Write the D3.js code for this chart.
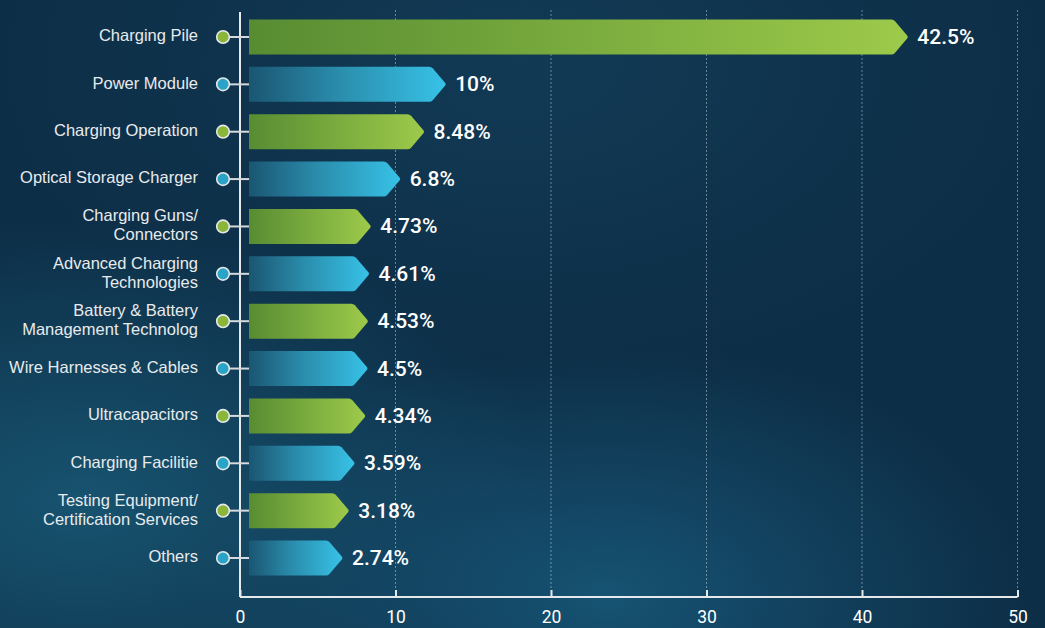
<!DOCTYPE html>
<html><head><meta charset="utf-8">
<script src="https://cdn.jsdelivr.net/npm/d3@7/dist/d3.min.js"></script>
<style>
html,body{margin:0;padding:0;background:#0d2e47;overflow:hidden;}
svg{display:block;}
</style></head>
<body>
<svg id="chart" width="1045" height="628"></svg>
<script>
const categories = ["Charging Pile","Power Module","Charging Operation","Optical Storage Charger","Charging Guns/\nConnectors","Advanced Charging\nTechnologies","Battery & Battery\nManagement Technolog","Wire Harnesses & Cables","Ultracapacitors","Charging Facilitie","Testing Equipment/\nCertification Services","Others"];
const values = [42.5, 10, 8.48, 6.8, 4.73, 4.61, 4.53, 4.5, 4.34, 3.59, 3.18, 2.74];
const valueLabels = ["42.5%","10%","8.48%","6.8%","4.73%","4.61%","4.53%","4.5%","4.34%","3.59%","3.18%","2.74%"];
const xTicks = [0, 10, 20, 30, 40, 50];

const W = 1045, H = 628;
const svg = d3.select("#chart");
const defs = svg.append("defs");

// background
const bg1 = defs.append("radialGradient").attr("id","bg1").attr("cx","0.08").attr("cy","0.8").attr("r","0.45");
bg1.append("stop").attr("offset","0").attr("stop-color","#17536f");
bg1.append("stop").attr("offset","1").attr("stop-color","#17536f").attr("stop-opacity",0);
const bg2 = defs.append("radialGradient").attr("id","bg2").attr("cx","0.58").attr("cy","0.95").attr("r","0.4");
bg2.append("stop").attr("offset","0").attr("stop-color","#165373");
bg2.append("stop").attr("offset","1").attr("stop-color","#165373").attr("stop-opacity",0);
const bg3 = defs.append("radialGradient").attr("id","bg3").attr("cx","0.5").attr("cy","0.1").attr("r","0.5");
bg3.append("stop").attr("offset","0").attr("stop-color","#123a55");
bg3.append("stop").attr("offset","1").attr("stop-color","#123a55").attr("stop-opacity",0);
svg.append("rect").attr("width",W).attr("height",H).attr("fill","#0d2e47");
svg.append("rect").attr("width",W).attr("height",H).attr("fill","url(#bg3)");
svg.append("rect").attr("width",W).attr("height",H).attr("fill","url(#bg1)");
svg.append("rect").attr("width",W).attr("height",H).attr("fill","url(#bg2)");

// bar gradients
const gG = defs.append("linearGradient").attr("id","gGreen").attr("x1",0).attr("x2",1).attr("y1",0).attr("y2",0);
gG.append("stop").attr("offset","0").attr("stop-color","#578c32");
gG.append("stop").attr("offset","1").attr("stop-color","#9dca4a");
const gB = defs.append("linearGradient").attr("id","gBlue").attr("x1",0).attr("x2",1).attr("y1",0).attr("y2",0);
gB.append("stop").attr("offset","0").attr("stop-color","#1a5672");
gB.append("stop").attr("offset","0.45").attr("stop-color","#2a8cab");
gB.append("stop").attr("offset","1").attr("stop-color","#37c2e7");

const x = d3.scaleLinear().domain([0,50]).range([240,1017.5]);
const xBar = d3.scaleLinear().domain([0,50]).range([304,1015]);
const y = d3.scaleBand().domain(categories).range([13.3,581.7]);
const barH = 35, barX0 = 249, tipLen = 15;

const axisY = 597;

// grid lines
svg.append("g").selectAll("line").data(xTicks.filter(d=>d>0)).join("line")
  .attr("x1",d=>x(d)).attr("x2",d=>x(d)).attr("y1",10).attr("y2",axisY-7)
  .attr("stroke","rgba(220,230,240,0.45)").attr("stroke-width",1).attr("stroke-dasharray","2,2");

// axis
const axis = d3.axisBottom(x).tickValues(xTicks).tickSize(-7).tickPadding(14).tickFormat(d3.format("d"));
const ag = svg.append("g").attr("transform",`translate(0,${axisY})`).call(axis);
ag.select(".domain").attr("stroke","#e6e9ec").attr("stroke-width",2).attr("d",`M${x(0)},0H${x(50)}`);
ag.selectAll(".tick line").attr("stroke","#e6e9ec").attr("stroke-width",2);
ag.selectAll(".tick text").attr("fill","#ffffff").attr("font-family","Roboto, sans-serif").attr("font-size",17.5).attr("font-weight",400);

svg.append("line").attr("x1",x(0)).attr("x2",x(0)).attr("y1",12).attr("y2",axisY)
  .attr("stroke","#e6e9ec").attr("stroke-width",2);

const data = categories.map((c,i)=>({c, v:values[i], lab:valueLabels[i], i}));

function arrowPath(x0, tip, cy){
  const top = cy - barH/2, bot = cy + barH/2, x1 = tip - tipLen;
  return `M${x0},${top} L${x1-2},${top} Q${x1},${top} ${x1+1.5},${top+1.5} L${tip-1.2},${cy-1.5} Q${tip},${cy} ${tip-1.2},${cy+1.5} L${x1+1.5},${bot-1.5} Q${x1},${bot} ${x1-2},${bot} L${x0},${bot} Z`;
}

const rows = svg.append("g").selectAll("g").data(data).join("g");
const cyOf = d => y(d.c) + y.bandwidth()/2;

// connectors
rows.append("line").attr("x1",229).attr("x2",barX0).attr("y1",cyOf).attr("y2",cyOf)
  .attr("stroke","#d6dadd").attr("stroke-width",2);
// markers
rows.append("circle").attr("cx",223).attr("cy",cyOf).attr("r",6.3)
  .attr("fill",d=>d.i%2===0?"#8ab73a":"#2aa3c9").attr("stroke","#e4e8ea").attr("stroke-width",1.6);
// bars
rows.append("path").attr("d",d=>arrowPath(barX0, xBar(d.v), cyOf(d)))
  .attr("fill",d=>d.i%2===0?"url(#gGreen)":"url(#gBlue)");
// value labels
rows.append("text").attr("x",d=>xBar(d.v)+9).attr("y",d=>cyOf(d)+1.5)
  .attr("dominant-baseline","middle").attr("fill","#ffffff")
  .attr("font-family","Roboto, sans-serif").attr("font-size",21).attr("font-weight",500)
  .text(d=>d.lab);
// category labels
rows.each(function(d){
  const lines = d.c.split("\n");
  const t = d3.select(this).append("text").attr("text-anchor","end")
    .attr("fill","#e8ebed").attr("font-family","'Liberation Sans', Arial, sans-serif").attr("font-size",16.5);
  const cy = cyOf(d);
  const lh = 19;
  lines.forEach((ln,k)=>{
    t.append("tspan").attr("x",198).attr("y", cy + (k - (lines.length-1)/2)*lh).attr("dominant-baseline","middle").text(ln);
  });
});
</script>
</body></html>
